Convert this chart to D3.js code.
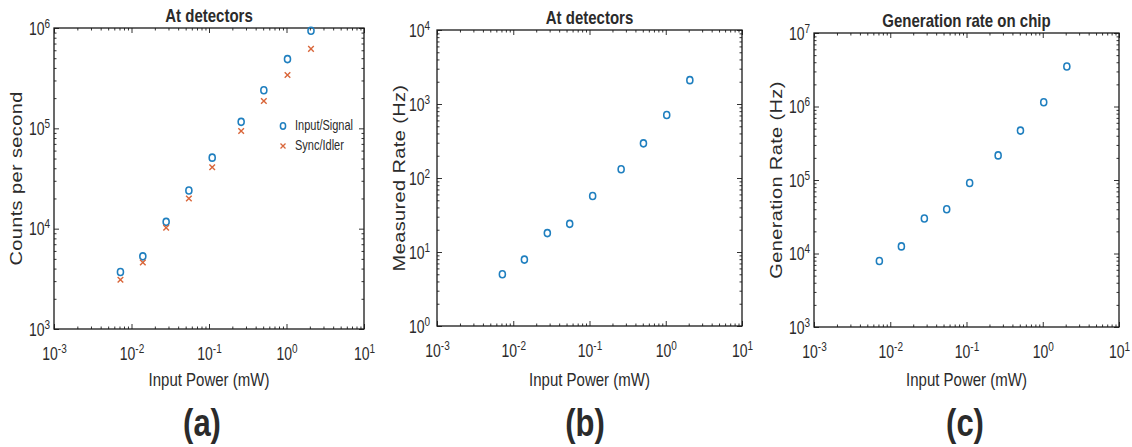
<!DOCTYPE html>
<html>
<head>
<meta charset="utf-8">
<script src="https://cdn.jsdelivr.net/npm/d3@7"></script>
<style>
  html, body { margin: 0; padding: 0; background: #fff; }
  svg { display: block; }
  text { font-family: "Liberation Sans", Arial, Helvetica, sans-serif; fill: #2b2b2b; }
</style>
</head>
<body>
<svg id="chart" width="1132" height="447"></svg>
<script>
// ---------------- data ----------------
const inputPower     = [0.0072, 0.014, 0.028, 0.055, 0.11, 0.26, 0.51, 1.03, 2.07];   // mW
const signalCounts   = [3.7e3, 5.3e3, 1.17e4, 2.4e4, 5.1e4, 1.16e5, 2.4e5, 4.9e5, 9.4e5];
const idlerCounts    = [3.1e3, 4.6e3, 1.02e4, 2.0e4, 4.1e4, 9.4e4, 1.87e5, 3.4e5, 6.2e5];
const measuredRate   = [5.0, 7.9, 18, 24, 57, 131, 294, 710, 2100];                  // Hz
const generationRate = [7.9e3, 1.25e4, 3.0e4, 4.0e4, 9.1e4, 2.16e5, 4.7e5, 1.14e6, 3.5e6]; // Hz
const xTickValues    = [1e-3, 1e-2, 1e-1, 1e0, 1e1];
const seriesNames    = ["Input/Signal", "Sync/Idler"];
const panelTitles    = ["At detectors", "At detectors", "Generation rate on chip"];
const yAxisLabels    = ["Counts per second", "Measured Rate (Hz)", "Generation Rate (Hz)"];
const xAxisLabel     = "Input Power (mW)";
const panelLabels    = ["(a)", "(b)", "(c)"];

// ---------------- layout / style ----------------
const BLUE = "#1f7fbf", ORANGE = "#d9663a";
const STRETCH = 1.25; // the reference is vertically stretched
const panels = [
  { box: {l: 54,  r: 364,  t: 28, b: 329}, yDomain: [1e3, 1e6], ylabX: 22,  labelX: 202,
    series: [{values: signalCounts, marker: "circle", color: BLUE}, {values: idlerCounts, marker: "cross", color: ORANGE}],
    legend: {x: 283, y: 126, dy: 20}, yPad: 4 },
  { box: {l: 437, r: 742,  t: 30, b: 326}, yDomain: [1e0, 1e4], ylabX: 405, labelX: 585,
    series: [{values: measuredRate, marker: "circle", color: BLUE}], yPad: 7 },
  { box: {l: 814, r: 1119, t: 33, b: 327}, yDomain: [1e3, 1e7], ylabX: 782, labelX: 965,
    series: [{values: generationRate, marker: "circle", color: BLUE}], yPad: 4 }
];

const svg = d3.select("#chart");

function decades(lo, hi) {
  const out = [];
  for (let e = Math.round(Math.log10(lo)); e <= Math.round(Math.log10(hi)); e++) out.push(Math.pow(10, e));
  return out;
}
function minors(lo, hi) {
  const out = [];
  for (let e = Math.round(Math.log10(lo)); e < Math.round(Math.log10(hi)); e++)
    for (let m = 2; m <= 9; m++) out.push(m * Math.pow(10, e));
  return out;
}
function stretchedText(parent, x, y, str, opts) {
  const g = parent.append("g")
    .attr("transform", opts.rotate
      ? `translate(${x},${y}) rotate(-90) scale(${STRETCH},1)`
      : `translate(${x},${y}) scale(1,${STRETCH})`);
  const t = g.append("text")
    .attr("text-anchor", opts.anchor || "middle")
    .attr("font-size", opts.size)
    .attr("font-weight", opts.weight || "normal")
    .text(str);
  if (opts.spacing) t.attr("letter-spacing", opts.spacing);
  return t;
}
function supLabels(sel, mode, pad) {
  sel.selectAll(".tick text").each(function(d) {
    const e = Math.round(Math.log10(d));
    const t = d3.select(this);
    t.text("10").attr("font-size", 14).attr("fill", "#4a4a4a")
      .attr("font-family", '"Liberation Sans", Arial, sans-serif');
    t.append("tspan").attr("dy", -5.5).attr("font-size", 10).text(e);
    if (mode === "x") {
      t.attr("y", 31 / STRETCH).attr("dy", 0).attr("transform", `scale(1,${STRETCH})`);
    } else {
      t.attr("x", -pad).attr("dy", 6 / STRETCH).attr("transform", `scale(1,${STRETCH})`);
    }
  });
}

panels.forEach((p, i) => {
  const {l, r, t, b} = p.box;
  const g = svg.append("g");
  const x = d3.scaleLog().domain([1e-3, 1e1]).range([l, r]);
  const y = d3.scaleLog().domain(p.yDomain).range([b, t]);
  const yMaj = decades(p.yDomain[0], p.yDomain[1]);
  const yMin = minors(p.yDomain[0], p.yDomain[1]);
  const xMin = minors(1e-3, 1e1);

  const axisStyle = sel => {
    sel.select(".domain").remove();
    sel.selectAll(".tick line").attr("stroke", "#333").attr("stroke-width", 1);
  };

  // bottom
  g.append("g").attr("transform", `translate(0,${b})`)
    .call(d3.axisBottom(x).tickValues(xTickValues).tickSizeInner(-5).tickSizeOuter(0).tickPadding(0).tickFormat(() => "10"))
    .call(axisStyle).call(s => supLabels(s, "x"));
  g.append("g").attr("transform", `translate(0,${b})`)
    .call(d3.axisBottom(x).tickValues(xMin).tickSizeInner(-2.5).tickSizeOuter(0).tickFormat(""))
    .call(axisStyle);
  // top
  g.append("g").attr("transform", `translate(0,${t})`)
    .call(d3.axisTop(x).tickValues(xTickValues).tickSizeInner(-5).tickSizeOuter(0).tickFormat(""))
    .call(axisStyle);
  g.append("g").attr("transform", `translate(0,${t})`)
    .call(d3.axisTop(x).tickValues(xMin).tickSizeInner(-2.5).tickSizeOuter(0).tickFormat(""))
    .call(axisStyle);
  // left
  g.append("g").attr("transform", `translate(${l},0)`)
    .call(d3.axisLeft(y).tickValues(yMaj).tickSizeInner(-5).tickSizeOuter(0).tickPadding(0).tickFormat(() => "10"))
    .call(axisStyle).call(s => supLabels(s, "y", p.yPad));
  g.append("g").attr("transform", `translate(${l},0)`)
    .call(d3.axisLeft(y).tickValues(yMin).tickSizeInner(-2.5).tickSizeOuter(0).tickFormat(""))
    .call(axisStyle);
  // right
  g.append("g").attr("transform", `translate(${r},0)`)
    .call(d3.axisRight(y).tickValues(yMaj).tickSizeInner(-5).tickSizeOuter(0).tickFormat(""))
    .call(axisStyle);
  g.append("g").attr("transform", `translate(${r},0)`)
    .call(d3.axisRight(y).tickValues(yMin).tickSizeInner(-2.5).tickSizeOuter(0).tickFormat(""))
    .call(axisStyle);

  // box
  g.append("rect").attr("x", l).attr("y", t).attr("width", r - l).attr("height", b - t)
    .attr("fill", "none").attr("stroke", "#1a1a1a").attr("stroke-width", 1.3);

  // markers
  p.series.forEach(s => {
    const pts = g.append("g");
    s.values.forEach((v, k) => {
      const cx = x(inputPower[k]), cy = y(v);
      if (s.marker === "circle") {
        pts.append("ellipse").attr("cx", cx).attr("cy", cy).attr("rx", 3).attr("ry", 3.5)
          .attr("fill", "none").attr("stroke", s.color).attr("stroke-width", 1.6);
      } else {
        const d = 2.8;
        pts.append("path").attr("d", `M${cx-d},${cy-d}L${cx+d},${cy+d}M${cx-d},${cy+d}L${cx+d},${cy-d}`)
          .attr("stroke", s.color).attr("stroke-width", 1.4).attr("fill", "none");
      }
    });
  });

  // legend
  if (p.legend) {
    p.series.forEach((s, k) => {
      const ly = p.legend.y + k * p.legend.dy, lx = p.legend.x;
      if (s.marker === "circle") {
        g.append("ellipse").attr("cx", lx).attr("cy", ly).attr("rx", 2.6).attr("ry", 3.2)
          .attr("fill", "none").attr("stroke", s.color).attr("stroke-width", 1.5);
      } else {
        const d = 2.5;
        g.append("path").attr("d", `M${lx-d},${ly-d}L${lx+d},${ly+d}M${lx-d},${ly+d}L${lx+d},${ly-d}`)
          .attr("stroke", s.color).attr("stroke-width", 1.3);
      }
      stretchedText(g, lx + 12, ly + 4, seriesNames[k], {size: 11, anchor: "start"}).attr("fill", "#444");
    });
  }

  const cx = (l + r) / 2;
  stretchedText(g, cx, t - 6, panelTitles[i], {size: 15, weight: "bold"}).attr("fill", "#222");
  stretchedText(g, cx, 386, xAxisLabel, {size: 15}).attr("fill", "#3a3a3a");
  stretchedText(g, p.ylabX, (t + b) / 2, yAxisLabels[i], {size: 16, rotate: true, spacing: 0.3}).attr("fill", "#444");
  stretchedText(g, p.labelX, 436, panelLabels[i], {size: 31, weight: "bold"}).attr("fill", "#111");
});
</script>
</body>
</html>
